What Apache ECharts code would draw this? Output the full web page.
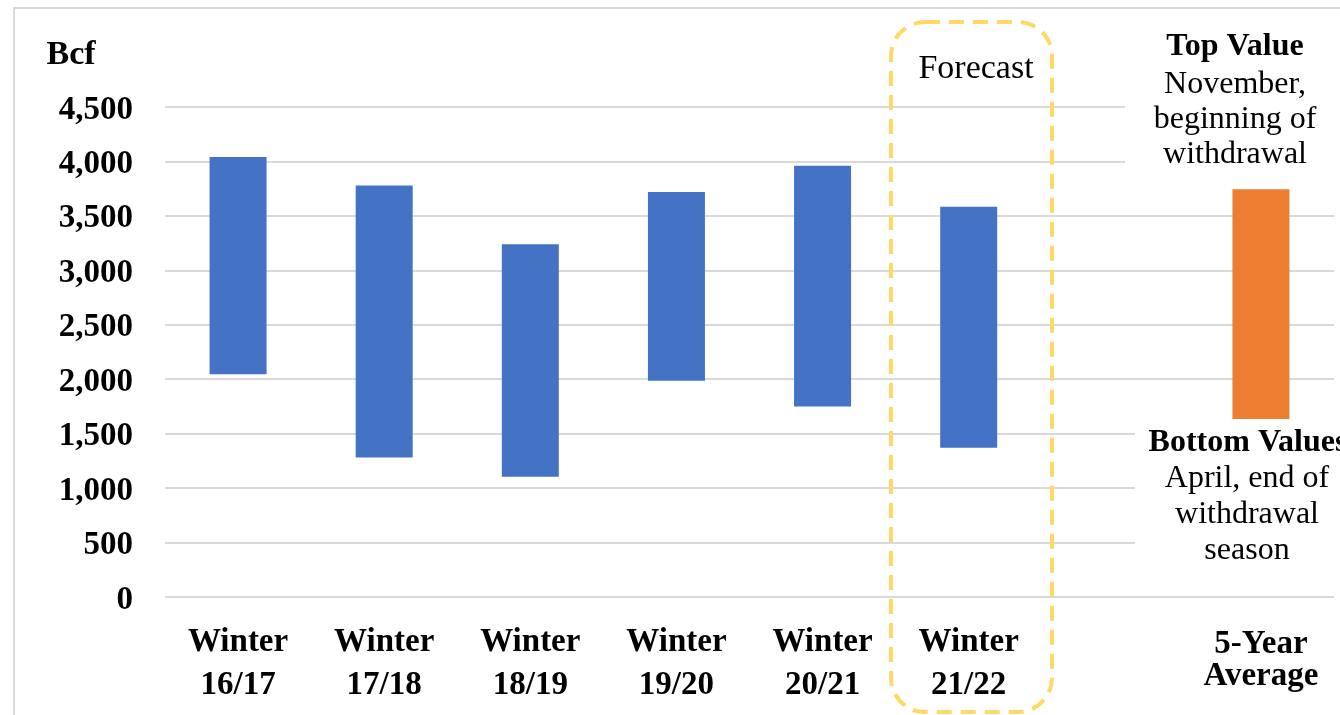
<!DOCTYPE html>
<html>
<head>
<meta charset="utf-8">
<script src="https://cdn.jsdelivr.net/npm/echarts@6/dist/echarts.min.js"></script>
<style>
html,body{margin:0;padding:0;background:#fff;}
#chart{width:1340px;height:715px;}
</style>
</head>
<body>
<div id="chart"></div>
<script>
// ---- data ----
const categories = ['Winter\n16/17', 'Winter\n17/18', 'Winter\n18/19', 'Winter\n19/20', 'Winter\n20/21', 'Winter\n21/22', '', '5-Year\nAverage'];
const topValues = [4040, 3780, 3240, 3720, 3960, 3585, null, 3745];   // November, beginning of withdrawal
const bottomValues = [2045, 1280, 1105, 1985, 1750, 1370, null, 1635]; // April, end of withdrawal season
const yTicks = [0, 500, 1000, 1500, 2000, 2500, 3000, 3500, 4000, 4500];
const averageIndex = 7;

const BLUE = '#4472C4', ORANGE = '#ED7D31';
const SERIF = "'Liberation Serif', 'Times New Roman', serif";

const rangeData = topValues.map((t, i) => {
  if (t == null) return null;
  return { value: t - bottomValues[i], itemStyle: { color: i === averageIndex ? ORANGE : BLUE } };
});

const chart = echarts.init(document.getElementById('chart'));
chart.setOption({
  animation: false,
  backgroundColor: '#fff',
  grid: { left: 165, right: 6, top: 107, bottom: 118, containLabel: false },
  xAxis: {
    type: 'category',
    data: categories,
    axisLine: { show: false },
    axisTick: { show: false },
    axisLabel: {
      interval: 0,
      margin: 24,
      formatter: function (v) {
        if (!v) return '';
        const parts = v.split('\n');
        if (v.indexOf('5-Year') === 0) return '{c1|' + parts[0] + '}\n{c2|' + parts[1] + '}';
        return '{w|' + parts[0] + '}\n{w|' + parts[1] + '}';
      },
      rich: {
        w: { fontFamily: SERIF, fontWeight: 'bold', fontSize: 33, lineHeight: 43, color: '#000', align: 'center' },
        c1: { fontFamily: SERIF, fontWeight: 'bold', fontSize: 33, lineHeight: 46, color: '#000', align: 'center' },
        c2: { fontFamily: SERIF, fontWeight: 'bold', fontSize: 33, lineHeight: 18, color: '#000', align: 'center' }
      }
    }
  },
  yAxis: {
    type: 'value',
    min: yTicks[0],
    max: yTicks[yTicks.length - 1],
    interval: 500,
    axisLine: { show: false },
    axisTick: { show: false },
    splitLine: { lineStyle: { color: '#D9D9D9', width: 2 } },
    axisLabel: {
      margin: 32,
      formatter: v => '{n|' + v.toLocaleString('en-US') + '}',
      rich: {
        n: { fontFamily: SERIF, fontWeight: 'bold', fontSize: 33, color: '#000', lineHeight: 33, padding: [6, 0, 0, 0] }
      }
    }
  },
  series: [
    {
      name: 'base', type: 'bar', stack: 'r', barWidth: 57, z: 2,
      itemStyle: { color: 'rgba(0,0,0,0)' },
      data: bottomValues
    },
    {
      name: 'range', type: 'bar', stack: 'r', barWidth: 57, z: 2,
      data: rangeData
    }
  ],
  graphic: [
    // outer frame
    { type: 'rect', z: 0, shape: { x: 14, y: 8, width: 1400, height: 800 },
      style: { fill: 'none', stroke: '#D9D9D9', lineWidth: 2 } },
    // text-box backgrounds that hide gridlines on the right
    { type: 'rect', z: 1, shape: { x: 1125, y: 20, width: 220, height: 158 }, style: { fill: '#fff' } },
    { type: 'rect', z: 1, shape: { x: 1135, y: 424, width: 210, height: 150 }, style: { fill: '#fff' } },
    // forecast box
    { type: 'rect', z: 50, shape: { x: 891, y: 22, width: 161, height: 690, r: 34 },
      style: { fill: 'none', stroke: '#FFD966', lineWidth: 4, lineDash: [15, 9] } },
    { type: 'text', z: 60, x: 976, y: 69,
      style: { text: 'Forecast', fontFamily: SERIF, fontSize: 34, fill: '#000', textAlign: 'center', textVerticalAlign: 'middle' } },
    // axis title
    { type: 'text', z: 60, x: 71, y: 55,
      style: { text: 'Bcf', fontFamily: SERIF, fontWeight: 'bold', fontSize: 34, fill: '#000', textAlign: 'center', textVerticalAlign: 'middle' } },
    // top value note
    { type: 'text', z: 60, x: 1235, y: 47,
      style: { text: 'Top Value', fontFamily: SERIF, fontWeight: 'bold', fontSize: 32, fill: '#000', textAlign: 'center', textVerticalAlign: 'middle' } },
    { type: 'text', z: 60, x: 1235, y: 120,
      style: { text: 'November,\nbeginning of\nwithdrawal', fontFamily: SERIF, fontSize: 32, lineHeight: 35, fill: '#000', textAlign: 'center', textVerticalAlign: 'middle' } },
    // bottom value note
    { type: 'text', z: 60, x: 1248, y: 443,
      style: { text: 'Bottom Values', fontFamily: SERIF, fontWeight: 'bold', fontSize: 32, fill: '#000', textAlign: 'center', textVerticalAlign: 'middle' } },
    { type: 'text', z: 60, x: 1247, y: 515,
      style: { text: 'April, end of\nwithdrawal\nseason', fontFamily: SERIF, fontSize: 32, lineHeight: 36, fill: '#000', textAlign: 'center', textVerticalAlign: 'middle' } }
  ]
});
</script>
</body>
</html>
